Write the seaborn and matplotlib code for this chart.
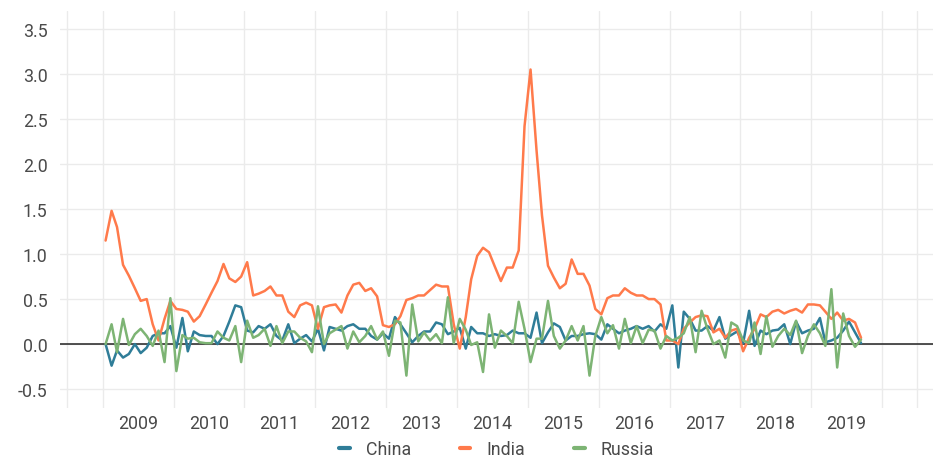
import pandas as pd
import matplotlib
matplotlib.use('Agg')
import matplotlib.pyplot as plt
import matplotlib.dates as mdates
import seaborn as sns

# monthly values, Jan 2009 - Sep 2019
months = pd.date_range('2009-01-01', '2019-09-01', freq='MS') + pd.Timedelta(days=14)

china = [0.0, -0.24, -0.07, -0.15, -0.11, 0.0, -0.10, -0.04, 0.09, 0.12, 0.12, 0.20,
         -0.04, 0.29, -0.08, 0.14, 0.10, 0.09, 0.09, 0.0, 0.09, 0.25, 0.43, 0.41,
         0.15, 0.13, 0.20, 0.17, 0.22, 0.09, 0.04, 0.22, 0.01, 0.06, 0.10, 0.03,
         0.17, -0.07, 0.19, 0.17, 0.15, 0.20, 0.22, 0.17, 0.17, 0.09, 0.05, 0.12,
         0.06, 0.30, 0.22, 0.12, 0.02, 0.09, 0.14, 0.14, 0.24, 0.22, 0.11, 0.14,
         0.18, -0.05, 0.19, 0.12, 0.12, 0.09, 0.11, 0.09, 0.10, 0.15, 0.12, 0.12,
         0.07, 0.35, 0.01, 0.13, 0.23, 0.19, 0.04, 0.09, 0.09, 0.11, 0.12, 0.11,
         0.05, 0.22, 0.17, 0.12, 0.15, 0.17, 0.20, 0.17, 0.20, 0.14, 0.22, 0.17,
         0.43, -0.26, 0.36, 0.28, 0.15, 0.15, 0.20, 0.15, 0.30, 0.06, 0.10, 0.14,
         0.01, 0.37, -0.02, 0.15, 0.11, 0.15, 0.16, 0.22, 0.0, 0.25, 0.12, 0.15,
         0.17, 0.29, 0.02, 0.04, 0.07, 0.15, 0.25, 0.13, 0.01]

india = [1.15, 1.48, 1.30, 0.88, 0.76, 0.62, 0.48, 0.50, 0.22, 0.04, 0.28, 0.48,
         0.39, 0.38, 0.36, 0.25, 0.31, 0.44, 0.57, 0.70, 0.89, 0.73, 0.69, 0.75,
         0.91, 0.54, 0.56, 0.59, 0.64, 0.54, 0.54, 0.36, 0.30, 0.43, 0.46, 0.43,
         0.17, 0.41, 0.43, 0.44, 0.35, 0.54, 0.66, 0.68, 0.59, 0.62, 0.53, 0.21,
         0.19, 0.22, 0.31, 0.49, 0.51, 0.54, 0.54, 0.60, 0.66, 0.64, 0.64, 0.22,
         -0.05, 0.30, 0.72, 0.98, 1.07, 1.02, 0.86, 0.70, 0.85, 0.85, 1.04, 2.42,
         3.05, 2.15, 1.43, 0.87, 0.74, 0.62, 0.67, 0.94, 0.78, 0.78, 0.65, 0.39,
         0.33, 0.51, 0.54, 0.54, 0.62, 0.57, 0.54, 0.54, 0.50, 0.50, 0.44, 0.04,
         0.04, 0.0, 0.17, 0.24, 0.30, 0.32, 0.31, 0.13, 0.17, 0.07, 0.15, 0.17,
         -0.08, 0.07, 0.17, 0.33, 0.30, 0.36, 0.38, 0.34, 0.37, 0.39, 0.35, 0.44,
         0.44, 0.43, 0.36, 0.28, 0.35, 0.26, 0.28, 0.24, 0.07]

russia = [0.0, 0.22, -0.09, 0.28, -0.01, 0.11, 0.17, 0.09, -0.02, 0.15, -0.20, 0.51,
          -0.30, 0.10, 0.06, 0.07, 0.02, 0.01, 0.01, 0.14, 0.07, 0.04, 0.20, -0.20,
          0.26, 0.07, 0.10, 0.17, -0.02, 0.20, 0.01, 0.14, 0.14, 0.07, 0.03, -0.09,
          0.42, 0.0, 0.12, 0.16, 0.20, -0.05, 0.14, 0.02, 0.09, 0.20, 0.05, 0.14,
          -0.13, 0.26, 0.24, -0.35, 0.44, 0.03, 0.13, 0.04, 0.11, 0.01, 0.52, 0.01,
          0.28, 0.16, -0.01, 0.02, -0.31, 0.33, -0.04, 0.15, 0.09, 0.01, 0.47, 0.17,
          -0.20, 0.06, 0.06, 0.48, 0.09, -0.05, 0.04, 0.20, 0.04, 0.20, -0.35, 0.09,
          0.30, 0.12, 0.21, -0.05, 0.28, 0.01, 0.20, 0.01, 0.16, 0.15, -0.05, 0.09,
          0.04, 0.07, 0.12, 0.30, -0.09, 0.37, 0.17, 0.0, 0.04, -0.15, 0.24, 0.20,
          0.04, 0.01, 0.24, -0.11, 0.31, -0.03, 0.09, 0.17, 0.10, 0.26, -0.10, 0.09,
          0.22, 0.12, -0.02, 0.61, -0.26, 0.34, 0.09, -0.03, 0.05]

years = list(range(2009, 2020))
yticks = [-0.5, 0.0, 0.5, 1.0, 1.5, 2.0, 2.5, 3.0, 3.5]
colors = {'China': '#2f7d98', 'India': '#ff7a4b', 'Russia': '#7db474'}

df = pd.DataFrame({'date': months, 'China': china, 'India': india, 'Russia': russia})
df = df.melt('date', var_name='country', value_name='value')

sns.set_theme(style='whitegrid')
plt.rcParams['font.family'] = ['Roboto', 'DejaVu Sans']

fig, ax = plt.subplots(figsize=(9.41, 4.60), dpi=100)
fig.subplots_adjust(left=60/941, right=933/941, top=1-12/460, bottom=1-409/460)

sns.lineplot(data=df, x='date', y='value', hue='country', palette=colors,
             linewidth=1.8, ax=ax)
ax.axhline(0, color='#222222', lw=1.1, zorder=1.5)

# y axis
ax.set_ylim(-0.71, 3.70)
ax.set_yticks(yticks)
ax.set_yticklabels([f'{v:.1f}' for v in yticks])

# x axis: labels mid-year, grid lines at year boundaries
ax.set_xlim(mdates.date2num(pd.Timestamp('2008-05-25')), mdates.date2num(pd.Timestamp('2020-09-20')))
ax.set_xticks([mdates.date2num(pd.Timestamp(f'{y}-07-01')) for y in years])
ax.set_xticklabels([str(y) for y in years])
grid_dates = [pd.Timestamp('2008-07-01')] + [pd.Timestamp(f'{y}-01-01') for y in years + [2020]] + [pd.Timestamp('2020-07-01')]
ax.set_xticks([mdates.date2num(d) for d in grid_dates], minor=True)

ax.grid(False)
ax.grid(which='major', axis='y', color='#ebebeb', lw=1)
ax.grid(which='minor', axis='x', color='#ebebeb', lw=1)
ax.tick_params(which='both', length=0, labelsize=12.8, colors='#4a4a4a')
ax.tick_params(axis='y', pad=9)
ax.tick_params(axis='x', pad=4)
for s in ax.spines.values():
    s.set_visible(False)
ax.set_xlabel('')
ax.set_ylabel('')

sns.move_legend(ax, 'upper center', bbox_to_anchor=(0.5, -0.04), ncol=3, frameon=False,
                title=None, handlelength=0.6, columnspacing=2.75, handletextpad=0.9,
                fontsize=12.8)
leg = ax.get_legend()
for line in leg.get_lines():
    line.set_linewidth(3)
for t in leg.get_texts():
    t.set_color('#4a4a4a')

plt.savefig('out.png', dpi=100)
